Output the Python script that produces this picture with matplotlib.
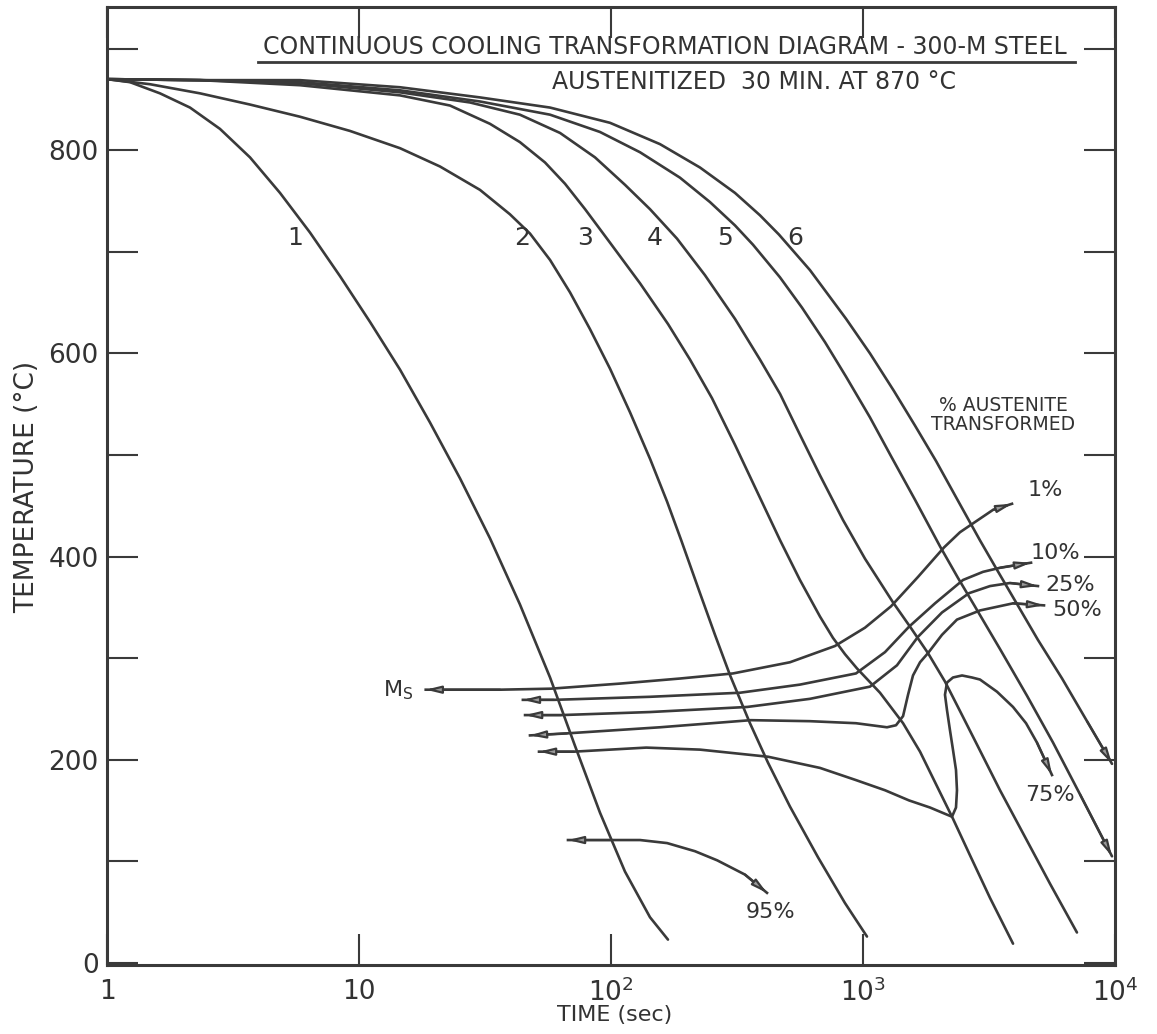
import matplotlib
matplotlib.use("Agg")
import matplotlib.pyplot as plt

plt.rcParams['font.family'] = ['DejaVu Sans']
plt.rcParams['mathtext.fontset'] = 'dejavusans'

INK = '#3a3a3a'
TXT = '#333333'

# cooling curves 1-6 : time (sec) / temperature (C)
c1_time = [1, 1.234, 1.623, 2.135, 2.808, 3.693, 4.859, 6.39, 8.41, 11.06, 14.55, 19.13,
           25.17, 33.1, 43.5, 57.3, 71.9, 90.4, 113.6, 142.8, 168.3]
c1_temp = [870, 867, 856, 842, 821, 793, 758, 719, 676, 631, 584, 532,
           477, 418, 353, 281, 214, 148, 90, 45, 23]

c2_time = [1, 1.48, 2.34, 3.69, 5.83, 9.21, 14.55, 20.96, 30.2, 39.7, 47.7, 57.3, 68.8,
           82.5, 99.1, 119, 143, 167, 190, 225.5, 258.6, 297, 356, 420, 513, 663, 848, 1037]
c2_temp = [870, 865, 856, 845, 833, 819, 802, 784, 761, 737, 718, 692, 660,
           624, 585, 542, 496, 454, 416, 364, 323, 283, 236, 197, 154, 104, 59, 26]

c3_time = [1, 2.34, 5.83, 14.55, 22.97, 33.1, 43.5, 54.7, 65.7, 78.9, 99.1, 130.4, 168.3,
           205.8, 251.6, 310.5, 390, 469, 562, 675, 760, 848, 946, 1168, 1442, 1684,
           1966, 2275, 2658, 3192, 3939]
c3_temp = [870, 869, 864, 854, 844, 826, 808, 788, 767, 742, 709, 669, 629,
           594, 556, 510, 458, 416, 377, 341, 320, 304, 290, 266, 236, 208,
           174, 142, 106, 64, 19]

c4_time = [1, 2.34, 5.83, 14.55, 27.6, 43.5, 62.8, 86.4, 113.6, 142.8, 182.8, 236, 310.5,
           390, 469, 562, 675, 833, 1018, 1315, 1537, 1811, 2115, 2426,
           2833, 3497, 4395, 5523, 7063]
c4_temp = [870, 869, 866, 857, 847, 835, 817, 793, 766, 742, 713, 677, 634,
           594, 560, 520, 480, 436, 398, 355, 331, 305, 277, 248,
           215, 170, 124, 78, 30]

c5_time = [1, 2.34, 5.83, 14.55, 30.2, 57.3, 90.4, 130.4, 187.8, 247, 310.5, 366, 468,
           573, 707, 857, 1066, 1291, 1608, 2022, 2382, 2734, 3497, 4476, 5675, 7263, 9730]
c5_temp = [870, 869, 867, 859, 848, 835, 818, 798, 773, 749, 726, 707, 675,
           645, 611, 577, 537, 499, 456, 410, 379, 354, 309, 263, 217, 166, 105]

c6_time = [1, 2.34, 5.83, 14.55, 30.2, 57.3, 99.1, 156.5, 225.5, 310.5, 390, 464, 616,
           857, 1066, 1327, 1608, 1950, 2382, 2912, 3402, 3939, 4946, 6166, 7743, 9730]
c6_temp = [870, 869, 869, 862, 852, 842, 827, 806, 783, 758, 736, 717, 682,
           634, 600, 563, 529, 494, 455, 416, 387, 360, 318, 280, 238, 196]

# % austenite transformed lines
p1_time = [18.4, 36.3, 57.8, 108.6, 188, 305, 513, 774, 1018, 1291, 1653, 2096, 2426,
           2782, 3280, 3902]
p1_temp = [269, 269, 270, 275, 280, 285, 296, 312, 330, 351, 380, 409, 424, 434, 446, 452]

p10_time = [44.7, 59.4, 142.8, 325, 562, 938, 1223, 1523, 1931, 2494, 2994, 3497, 4643]
p10_temp = [259, 259, 262, 266, 274, 285, 306, 331, 354, 377, 385, 389, 394]

p25_time = [45.6, 63.4, 142.8, 347, 616, 1066, 1364, 1652, 2058, 2634, 3192, 3831, 4946]
p25_temp = [244, 244, 247, 252, 260, 272, 293, 321, 345, 364, 371, 374, 371]

p50_time = [47.7, 66.9, 156.5, 359, 616, 938, 1245, 1352, 1442, 1509, 1579, 1684, 1811,
            2058, 2360, 2912, 3939, 5227]
p50_temp = [224, 226, 232, 239, 238, 236, 232, 234, 243, 264, 283, 296, 305,
            323, 338, 347, 354, 352]

p75_time = [51.8, 71.3, 138, 225.5, 420, 675, 938, 1223, 1523, 1845, 2154, 2255, 2339,
            2360, 2339, 2275, 2214, 2154, 2115, 2154, 2275, 2472, 2707, 2912, 3402,
            3939, 4436, 4900, 5623]
p75_temp = [208, 208, 212, 210, 203, 192, 180, 170, 160, 153, 146, 144, 153,
            170, 190, 210, 229, 249, 264, 276, 281, 283, 281, 279, 267,
            252, 236, 217, 185]

p95_time = [67.5, 99, 130.4, 167, 215.4, 264, 340, 416]
p95_temp = [121, 121, 121, 118, 110, 101, 87, 69]

curve_labels = ['1', '2', '3', '4', '5', '6']
pct_labels = ['1%', '10%', '25%', '50%', '75%', '95%']

W, H = 1157, 1034
fig = plt.figure(figsize=(W / 100, H / 100), dpi=100)
ax = fig.add_axes([107 / W, 1 - 965 / H, (1115 - 107) / W, (965 - 7) / H])
ax.set_xscale('log')
ax.set_xlim(1, 1e4)
ax.set_ylim(-2, 941)


def px(x, y):
    return x / W, 1 - y / H


def head(xs, ys, at_end=True):
    if at_end:
        tip, tail = (xs[-1], ys[-1]), (xs[-2], ys[-2])
    else:
        tip, tail = (xs[0], ys[0]), (xs[1], ys[1])
    ax.annotate('', xy=tip, xytext=tail,
                arrowprops=dict(arrowstyle='-|>,head_length=0.9,head_width=0.22',
                                color=INK, fc='#9a9a9a', lw=1.6, shrinkA=0, shrinkB=0))


lw = 1.9
for t, T in [(c1_time, c1_temp), (c2_time, c2_temp), (c3_time, c3_temp),
             (c4_time, c4_temp), (c5_time, c5_temp), (c6_time, c6_temp)]:
    ax.plot(t, T, color=INK, lw=lw, solid_capstyle='round', solid_joinstyle='round')
head(c5_time, c5_temp)
head(c6_time, c6_temp)

for t, T in [(p1_time, p1_temp), (p10_time, p10_temp), (p25_time, p25_temp),
             (p50_time, p50_temp), (p75_time, p75_temp), (p95_time, p95_temp)]:
    ax.plot(t, T, color=INK, lw=lw, solid_joinstyle='round')
    head(t, T, at_end=False)
    head(t, T, at_end=True)

# axes styling
for s in ax.spines.values():
    s.set_linewidth(2.2)
    s.set_color(INK)
ax.set_yticks(range(0, 901, 100))
ax.set_yticklabels(['0', '', '200', '', '400', '', '600', '', '800', ''])
ax.set_xticks([1, 10, 100, 1000, 10000])
ax.set_xticklabels(['1', '10', '$10^2$', '$10^3$', '$10^4$'])
ax.minorticks_off()
ax.tick_params(axis='both', direction='in', length=22, width=1.5, color=INK,
               labelsize=19, labelcolor=TXT, right=True, top=True)
ax.tick_params(axis='x', pad=10)
ax.tick_params(axis='y', pad=6)

# titles and labels
fig.text(*px(665, 47), 'CONTINUOUS COOLING TRANSFORMATION DIAGRAM - 300-M STEEL',
         ha='center', va='center', fontsize=17, color=TXT)
fig.add_artist(plt.Line2D([258 / W, 1075 / W], [1 - 62 / H, 1 - 62 / H], color=INK, lw=2))
fig.text(*px(754, 82), 'AUSTENITIZED  30 MIN. AT 870 °C',
         ha='center', va='center', fontsize=17, color=TXT)

fig.text(*px(27, 487), 'TEMPERATURE (°C)', rotation=90, ha='center', va='center',
         fontsize=19, color=TXT)
fig.text(*px(615, 1015), 'TIME (sec)', ha='center', va='center', fontsize=16, color=TXT)

for lab, x in zip(curve_labels, [295, 522, 585, 655, 725, 795]):
    fig.text(*px(x, 238), lab, ha='center', va='center', fontsize=18, color=TXT)

fig.text(*px(1003, 415), '% AUSTENITE\nTRANSFORMED', ha='center', va='center',
         fontsize=13.5, color=TXT, linespacing=0.95)
for lab, (x, y) in zip(pct_labels, [(1045, 490), (1055, 553), (1070, 585), (1077, 610),
                                    (1050, 795), (770, 912)]):
    fig.text(*px(x, y), lab, ha='center', va='center', fontsize=16, color=TXT)
fig.text(*px(398, 690), r'M$_\mathregular{S}$', ha='center', va='center', fontsize=16,
         color=TXT)

fig.savefig('out.png', dpi=100, facecolor='white')
